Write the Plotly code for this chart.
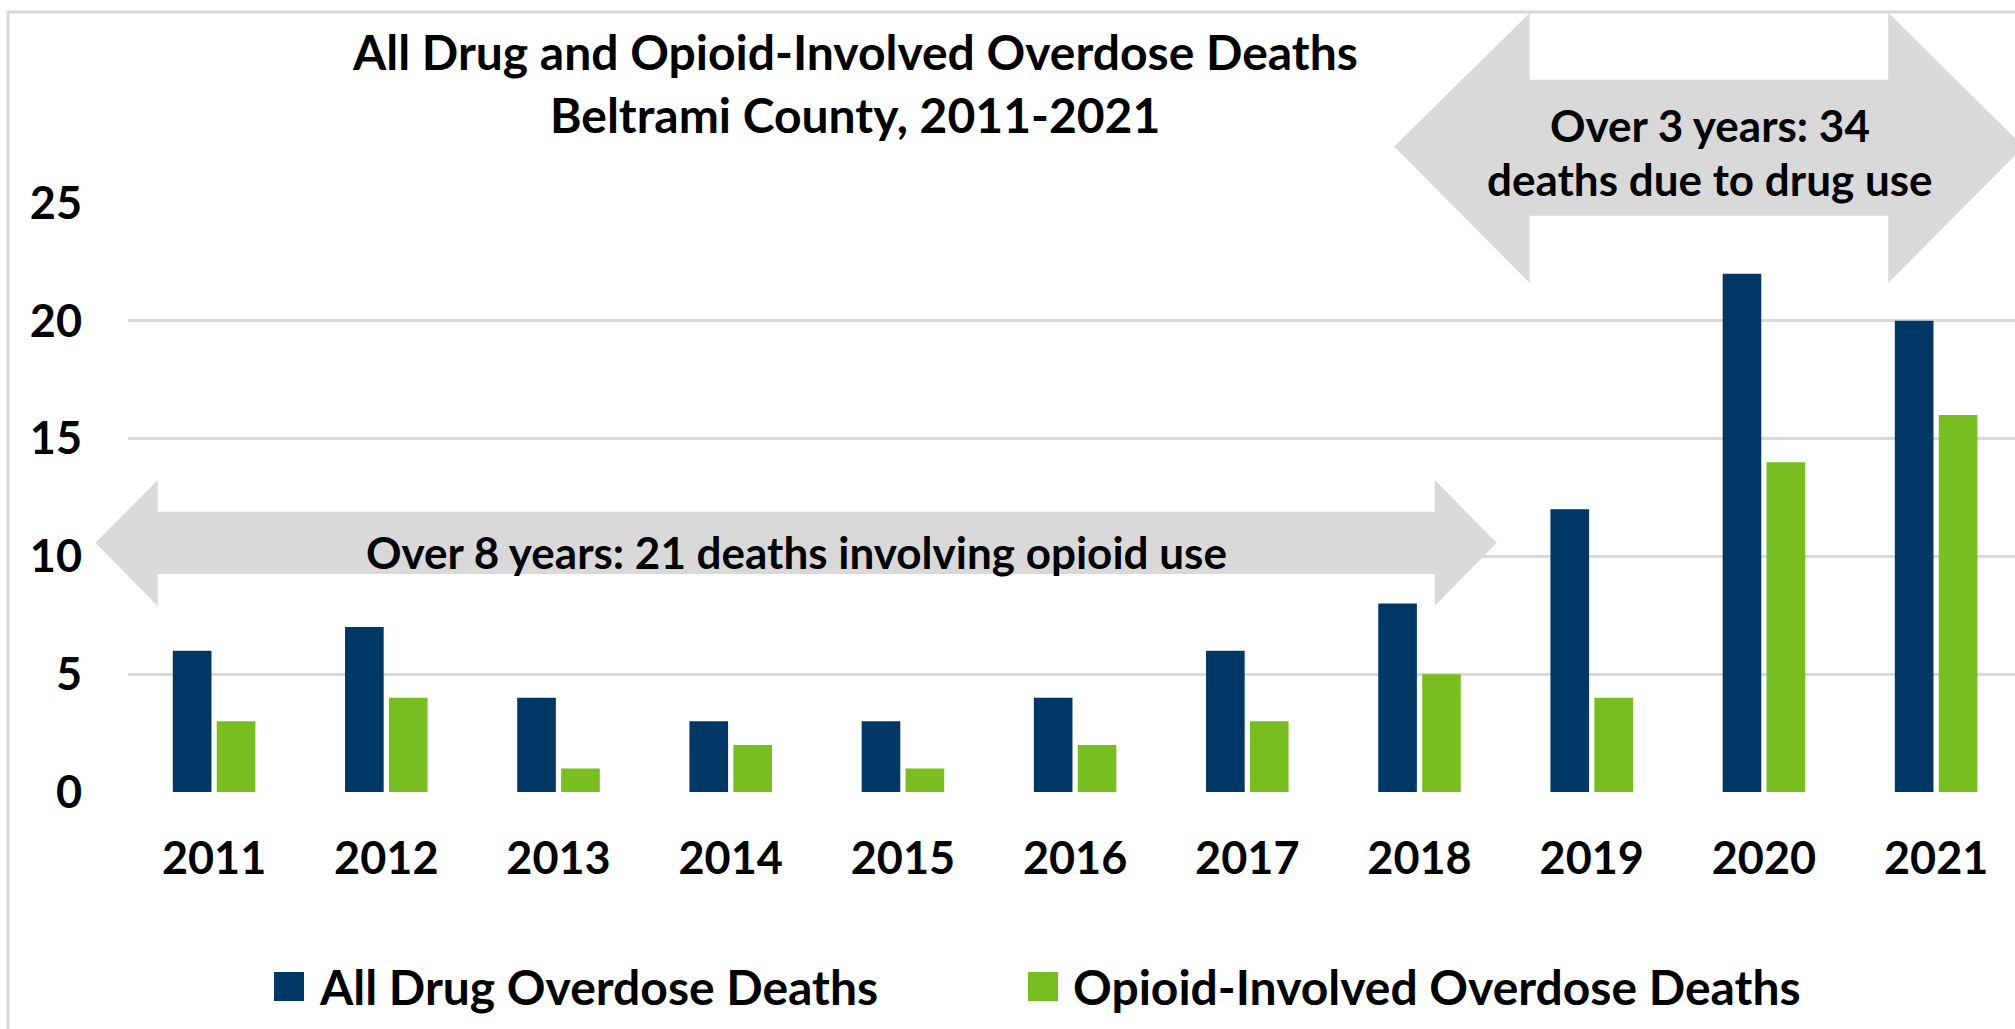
import plotly.graph_objects as go

# ---- data -------------------------------------------------------------
years = ["2011", "2012", "2013", "2014", "2015", "2016",
         "2017", "2018", "2019", "2020", "2021"]
all_drug_deaths = [6, 7, 4, 3, 3, 4, 6, 8, 12, 22, 20]
opioid_deaths = [3, 4, 1, 2, 1, 2, 3, 5, 4, 14, 16]
series_names = ["All Drug Overdose Deaths", "Opioid-Involved Overdose Deaths"]
series_colors = ["#003865", "#78BE21"]
y_ticks = [0, 5, 10, 15, 20, 25]

title_lines = ["All Drug and Opioid-Involved Overdose Deaths",
               "Beltrami County, 2011-2021"]
early_note = "Over 8 years: 21 deaths involving opioid use"
late_note = ["Over 3 years: 34", "deaths due to drug use"]

# ---- page geometry ----------------------------------------------------
W, H = 2015, 1029
M_L, M_R, M_T, M_B = 128, 0, 203, 237
PLOT_W = W - M_L - M_R
PLOT_H = H - M_T - M_B
# the last category runs slightly past the right edge of the page
X_RANGE = [-0.5, 10.458]
Y_RANGE = [0, 25]

FONT = "Lato"
GREY = "#d9d9d9"


def px_x(px):
    return (px - M_L) / PLOT_W


def px_y(py):
    return (H - M_B - py) / PLOT_H


def dx(idx):
    """category index -> paper x"""
    return (idx - X_RANGE[0]) / (X_RANGE[1] - X_RANGE[0])


def dy(val):
    """value -> paper y"""
    return (val - Y_RANGE[0]) / (Y_RANGE[1] - Y_RANGE[0])


def poly(points):
    return "M " + " L ".join(f"{dx(a):.5f},{dy(b):.5f}" for a, b in points) + " Z"


def bold(size):
    return dict(family=FONT, size=size, color="black", weight="bold")


fig = go.Figure()
for name, vals, col in zip(series_names, [all_drug_deaths, opioid_deaths], series_colors):
    fig.add_trace(go.Bar(x=years, y=vals, name=name, marker_color=col,
                         marker_line_width=0, showlegend=False))

# double-headed arrow spanning 2011-2018 (index / value units)
bottom_arrow = [(-0.689, 10.58), (-0.3275, 13.24), (-0.3275, 11.9), (7.088, 11.9),
                (7.088, 13.24), (7.448, 10.58), (7.088, 7.9), (7.088, 9.25),
                (-0.3275, 9.25), (-0.3275, 7.9)]
# double-headed arrow over 2019-2021
top_arrow = [(6.853, 27.4), (7.640, 33.07), (7.640, 30.23), (9.722, 30.23),
             (9.722, 33.07), (10.508, 27.4), (9.722, 21.6), (9.722, 24.46),
             (7.640, 24.46), (7.640, 21.6)]

shapes = [
    dict(type="rect", xref="paper", yref="paper",
         x0=px_x(8), y0=px_y(12), x1=px_x(2060), y1=px_y(1080),
         line=dict(color=GREY, width=3), fillcolor="rgba(0,0,0,0)", layer="below"),
    dict(type="path", xref="paper", yref="paper", path=poly(bottom_arrow),
         fillcolor=GREY, line=dict(width=0), layer="above"),
    dict(type="path", xref="paper", yref="paper", path=poly(top_arrow),
         fillcolor=GREY, line=dict(width=0), layer="above"),
]

# legend swatches
legend_items = [(274, series_names[0], series_colors[0]),
                (1028, series_names[1], series_colors[1])]
for left, _, col in legend_items:
    shapes.append(dict(type="rect", xref="paper", yref="paper",
                       x0=px_x(left), x1=px_x(left + 30),
                       y0=px_y(1001), y1=px_y(972),
                       fillcolor=col, line=dict(width=0)))

annotations = []
for line, py in zip(title_lines, [52, 114]):
    annotations.append(dict(text=line, xref="paper", yref="paper",
                            x=px_x(855), y=px_y(py), xanchor="center", yanchor="middle",
                            showarrow=False, font=bold(48)))
annotations.append(dict(text=early_note, xref="paper", yref="paper",
                        x=dx(3.38), y=px_y(552), xanchor="center", yanchor="middle",
                        showarrow=False, font=bold(44)))
for line, py in zip(late_note, [125, 179]):
    annotations.append(dict(text=line, xref="paper", yref="paper",
                            x=dx(8.685), y=px_y(py), xanchor="center", yanchor="middle",
                            showarrow=False, font=bold(44)))
for left, name, _ in legend_items:
    annotations.append(dict(text=name, xref="paper", yref="paper",
                            x=px_x(left + 43), y=px_y(986), xanchor="left", yanchor="middle",
                            showarrow=False, font=bold(48)))

fig.update_layout(
    width=W, height=H,
    margin=dict(l=M_L, r=M_R, t=M_T, b=M_B, pad=0),
    paper_bgcolor="white", plot_bgcolor="white",
    barmode="group", bargap=0.49, bargroupgap=0.12,
    shapes=shapes, annotations=annotations,
    font=dict(family=FONT, color="black"),
    xaxis=dict(type="category", range=X_RANGE, showgrid=False, zeroline=False,
               showline=False, ticks="outside", ticklen=27,
               tickcolor="rgba(0,0,0,0)", tickfont=bold(45)),
    yaxis=dict(range=Y_RANGE, tickvals=y_ticks, showgrid=True, gridcolor=GREY,
               gridwidth=3, zeroline=False, showline=False, ticks="outside",
               ticklen=36, tickcolor="rgba(0,0,0,0)", tickfont=bold(45)),
)

fig.write_html("out.html")
